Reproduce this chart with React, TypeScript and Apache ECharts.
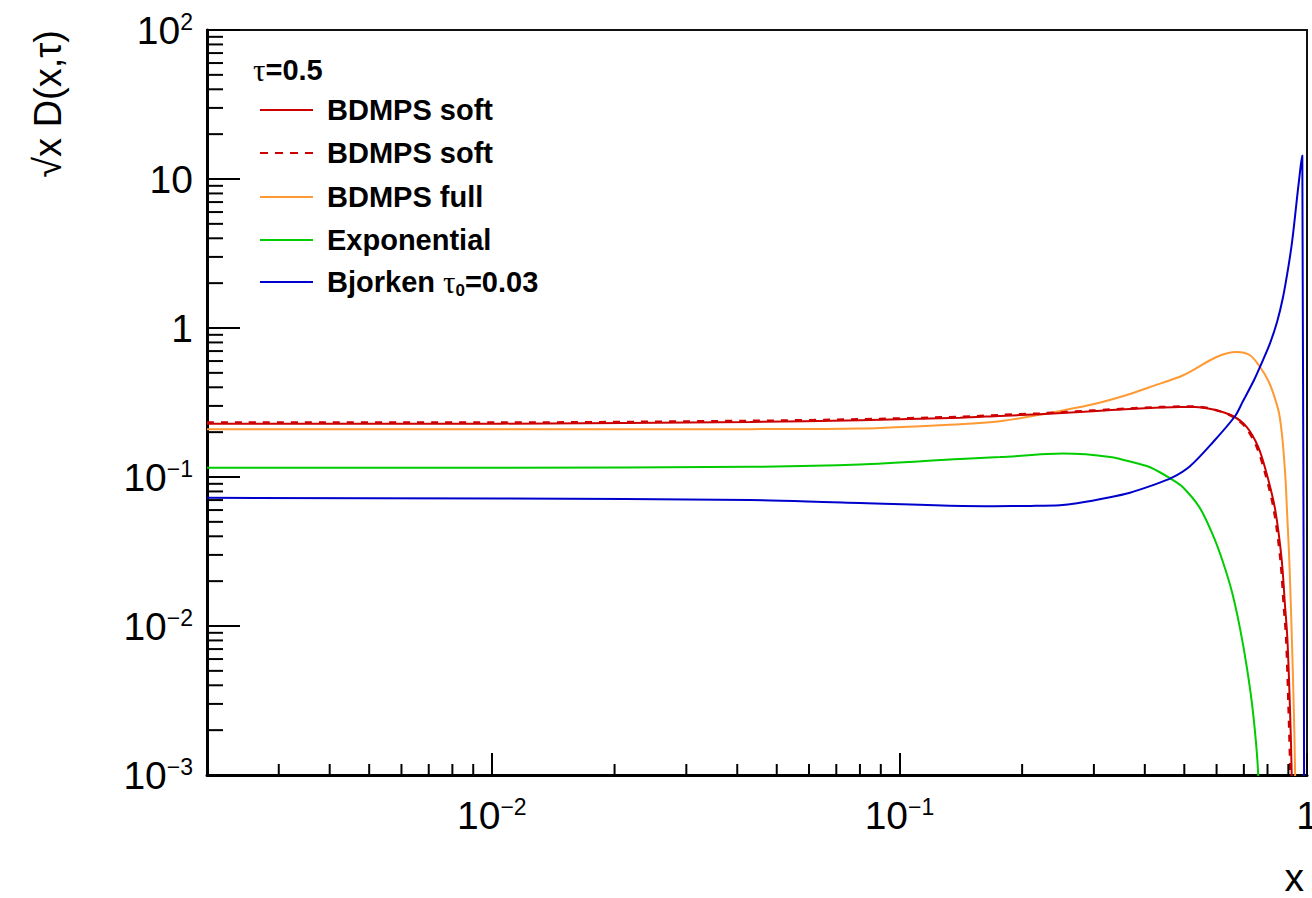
import { useEffect, useRef } from "react";
import * as echarts from "echarts";

// Axis ranges
const X_MIN = 0.002;
const X_MAX = 1;
const Y_MIN = 0.001;
const Y_MAX = 100;

// Minor tick multipliers and decades for the log axes
const MINOR_MULT = [2, 3, 4, 5, 6, 7, 8, 9];
const X_DECADES = [0.001, 0.01, 0.1];
const Y_DECADES = [0.001, 0.01, 0.1, 1, 10];

// BDMPS soft (solid)
const softX = [0.002, 0.0105, 0.043, 0.08, 0.1408, 0.1765, 0.221, 0.2985, 0.3678, 0.436, 0.488, 0.531, 0.589, 0.659, 0.711, 0.759, 0.796, 0.835, 0.867, 0.883, 0.895, 0.908, 0.917, 0.926];
const softY = [0.228, 0.228, 0.234, 0.2405, 0.2498, 0.257, 0.2637, 0.2763, 0.2861, 0.2924, 0.2953, 0.2955, 0.2836, 0.2557, 0.2168, 0.1591, 0.1056, 0.0608, 0.0277, 0.0138, 0.00826, 0.00287, 0.00103, 0.0001];

// BDMPS soft (dashed)
const softDX = [0.002, 0.0105, 0.043, 0.08, 0.1408, 0.1765, 0.221, 0.2985, 0.3678, 0.436, 0.488, 0.531, 0.586, 0.654, 0.706, 0.753, 0.79, 0.829, 0.861, 0.877, 0.889, 0.901, 0.91, 0.919];
const softDY = [0.232, 0.232, 0.238, 0.244, 0.2535, 0.2605, 0.267, 0.279, 0.2885, 0.2945, 0.297, 0.297, 0.2855, 0.2565, 0.2168, 0.1591, 0.1056, 0.0608, 0.0277, 0.0138, 0.00826, 0.00287, 0.00103, 0.0001];

// BDMPS full
const fullX = [0.002, 0.0105, 0.043, 0.08, 0.1408, 0.1765, 0.221, 0.2985, 0.3597, 0.412, 0.497, 0.6, 0.672, 0.7246, 0.767, 0.8023, 0.827, 0.854, 0.871, 0.886, 0.893, 0.902, 0.908, 0.918, 0.927, 0.935, 0.942];
const fullY = [0.209, 0.209, 0.2095, 0.2114, 0.226, 0.2366, 0.2617, 0.3078, 0.3537, 0.402, 0.4818, 0.639, 0.69, 0.656, 0.5476, 0.446, 0.363, 0.268, 0.1765, 0.0952, 0.0599, 0.0338, 0.0213, 0.0083, 0.00318, 0.00103, 0.0001];

// Exponential
const expoX = [0.002, 0.0105, 0.043, 0.08, 0.1408, 0.1765, 0.252, 0.329, 0.382, 0.412, 0.461, 0.496, 0.5463, 0.5878, 0.6222, 0.6546, 0.6847, 0.7124, 0.7369, 0.7581, 0.78];
const expoY = [0.1153, 0.1153, 0.117, 0.1213, 0.132, 0.136, 0.1438, 0.1364, 0.1235, 0.1163, 0.0982, 0.0854, 0.0618, 0.0407, 0.0268, 0.0169, 0.00968, 0.00522, 0.00265, 0.00108, 0.0001];

// Bjorken tau0 = 0.03
const bjorX = [0.002, 0.0105, 0.043, 0.0687, 0.17, 0.21, 0.2477, 0.2727, 0.3286, 0.3678, 0.412, 0.4664, 0.5162, 0.5878, 0.6657, 0.6963, 0.741, 0.7754, 0.8113, 0.844, 0.8732, 0.8997, 0.9188, 0.9346, 0.9478, 0.9585, 0.9667, 0.9739, 0.9861];
const bjorY = [0.0725, 0.0717, 0.07, 0.0678, 0.0637, 0.064, 0.0647, 0.0667, 0.0732, 0.0785, 0.0868, 0.0989, 0.1181, 0.1712, 0.2557, 0.3224, 0.4458, 0.5886, 0.7897, 1.092, 1.607, 2.553, 3.757, 5.613, 8.006, 10.41, 12.73, 14.4, 0.00001];

const RED = "#cc0000";
const ORANGE = "#ff9933";
const GREEN = "#00cc00";
const BLUE = "#0000cc";

const LEGEND_HEADER = "=0.5";
const LEGEND_ROWS = [
  { label: "{b|BDMPS soft}", color: RED, dash: false },
  { label: "{b|BDMPS soft}", color: RED, dash: true },
  { label: "{b|BDMPS full}", color: ORANGE, dash: false },
  { label: "{b|Exponential}", color: GREEN, dash: false },
  { label: "{b|Bjorken }{t|τ}{sub|0}{b|=0.03}", color: BLUE, dash: false },
];

const zip = (xs: number[], ys: number[]) => xs.map((x, i) => [x, ys[i]]);

const FONT = "'Liberation Sans', Arial, Helvetica, sans-serif";

const powLabel = (v: number) => {
  const e = Math.round(Math.log10(v));
  if (e === 0) return "{b|1}";
  if (e === 1) return "{b|10}";
  return `{b|10}{s|${e < 0 ? "\u2212" : ""}${Math.abs(e)}}`;
};

const labelRich = {
  b: { fontSize: 39, lineHeight: 40, fontFamily: FONT, color: "#000" },
  s: { fontSize: 23, lineHeight: 22, fontFamily: FONT, color: "#000", verticalAlign: "top" },
};

const yMinor: number[] = [];
Y_DECADES.forEach((d) => MINOR_MULT.forEach((m) => yMinor.push(m * d)));
const xMinor: number[] = [];
X_DECADES.forEach((d) =>
  MINOR_MULT.forEach((m) => {
    const v = m * d;
    if (v > X_MIN * 1.0001 && v < X_MAX) xMinor.push(v);
  })
);

const legendRich = {
  b: { fontSize: 29, fontWeight: "bold", fontFamily: FONT, color: "#000", lineHeight: 34 },
  t: { fontSize: 31, fontFamily: "'Liberation Serif', serif", color: "#000", lineHeight: 34 },
  sub: { fontSize: 17, fontWeight: "bold", fontFamily: FONT, color: "#000", lineHeight: 14, verticalAlign: "bottom" },
};

export default function App() {
  const ref = useRef<HTMLDivElement>(null);

  useEffect(() => {
    if (!ref.current) return;
    const chart = echarts.init(ref.current, null, { renderer: "svg" });

    const lineSeries = (name: string, data: number[][], color: string, dashed = false) => ({
      name,
      type: "line",
      data,
      symbol: "none",
      smooth: 0.3,
      clip: true,
      lineStyle: { color, width: dashed ? 2.5 : 2, type: dashed ? [7, 7] : "solid" },
      z: 3,
    });

    const minorTicks = (data: number[][], horizontal: boolean, len: number) => ({
      type: "custom",
      silent: true,
      clip: false,
      data,
      z: 6,
      renderItem: (_params: any, api: any) => {
        const p = api.coord([api.value(0), api.value(1)]);
        return {
          type: "line",
          shape: horizontal
            ? { x1: p[0], y1: p[1], x2: p[0] + len, y2: p[1] }
            : { x1: p[0], y1: p[1], x2: p[0], y2: p[1] - len },
          style: { stroke: "#000", lineWidth: 2 },
        };
      },
    });

    const legendEls: any[] = [
      {
        type: "text",
        x: 253,
        y: 70,
        style: {
          text: `{t|τ}{b|${LEGEND_HEADER}}`,
          rich: legendRich,
          align: "left",
          verticalAlign: "middle",
          textAlign: "left",
          textVerticalAlign: "middle",
        },
      },
    ];
    const rowY = [110, 153, 197, 240, 282];
    LEGEND_ROWS.forEach((r, i) => {
      legendEls.push({
        type: "line",
        shape: { x1: 260, y1: rowY[i], x2: 313, y2: rowY[i] },
        style: { stroke: r.color, lineWidth: 2, lineDash: r.dash ? [8, 7] : null },
      });
      legendEls.push({
        type: "text",
        x: 327,
        y: rowY[i],
        style: {
          text: r.label,
          rich: legendRich,
          align: "left",
          verticalAlign: "middle",
          textAlign: "left",
          textVerticalAlign: "middle",
        },
      });
    });

    chart.setOption({
      animation: false,
      backgroundColor: "#fff",
      grid: {
        left: 207,
        top: 30,
        width: 1100,
        height: 745,
        show: true,
        borderColor: "#111",
        borderWidth: 2,
        backgroundColor: "transparent",
        containLabel: false,
        outerBoundsMode: "none",
      },
      xAxis: {
        type: "log",
        logBase: 10,
        min: X_MIN,
        max: X_MAX,
        splitLine: { show: false },
        axisLine: { show: true, onZero: false, lineStyle: { color: "#000", width: 3 } },
        axisTick: { show: true, inside: true, length: 22, lineStyle: { color: "#000", width: 2 } },
        axisLabel: {
          formatter: powLabel,
          rich: labelRich,
          margin: 20,
          showMinLabel: false,
          hideOverlap: false,
          color: "#000",
        },
      },
      yAxis: {
        type: "log",
        logBase: 10,
        min: Y_MIN,
        max: Y_MAX,
        splitLine: { show: false },
        axisLine: { show: true, onZero: false, lineStyle: { color: "#000", width: 3 } },
        axisTick: { show: true, inside: true, length: 33, lineStyle: { color: "#000", width: 2 } },
        axisLabel: {
          formatter: powLabel,
          rich: labelRich,
          margin: 14,
          color: "#000",
        },
      },
      series: [
        lineSeries("Exponential", zip(expoX, expoY), GREEN),
        lineSeries("BDMPS full", zip(fullX, fullY), ORANGE),
        lineSeries("BDMPS soft", zip(softX, softY), RED),
        lineSeries("BDMPS soft (dashed)", zip(softDX, softDY), RED, true),
        lineSeries("Bjorken", zip(bjorX, bjorY), BLUE),
        minorTicks(yMinor.map((v) => [X_MIN, v]), true, 16),
        minorTicks(xMinor.map((v) => [v, Y_MIN]), false, 11),
      ],
      graphic: [
        ...legendEls,
        {
          type: "text",
          x: 48,
          y: 30,
          rotation: Math.PI / 2,
          style: {
            text: "√x D(x,τ)",
            fontSize: 38,
            fontFamily: FONT,
            fill: "#000",
            align: "right",
            verticalAlign: "middle",
            textAlign: "right",
            textVerticalAlign: "middle",
          },
        },
        {
          type: "text",
          x: 1304,
          y: 877,
          style: {
            text: "x",
            fontSize: 39,
            fontFamily: FONT,
            fill: "#000",
            align: "right",
            verticalAlign: "middle",
            textAlign: "right",
            textVerticalAlign: "middle",
          },
        },
      ],
    });

    return () => chart.dispose();
  }, []);

  return (
    <div
      ref={ref}
      style={{ position: "fixed", left: 0, top: 0, width: 1312, height: 898, background: "#fff" }}
    />
  );
}
